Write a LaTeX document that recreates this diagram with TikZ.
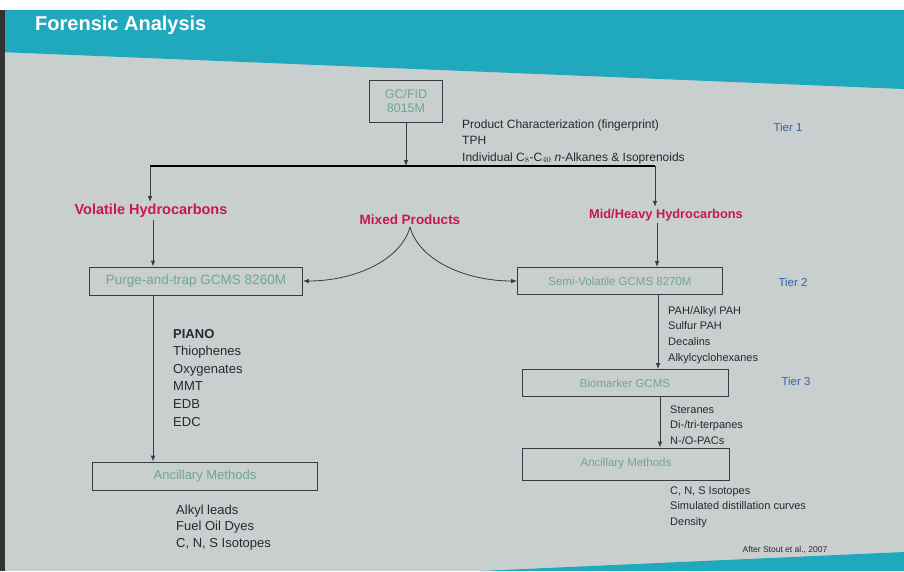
\documentclass[tikz,border=0pt]{standalone}
\usepackage{fontspec}
\setmainfont{Liberation Sans}
\usetikzlibrary{arrows.meta}
\definecolor{band}{RGB}{32,168,188}
\definecolor{slide}{RGB}{201,206,207}
\definecolor{crimson}{RGB}{198,26,74}
\definecolor{tierblue}{RGB}{52,98,168}
\definecolor{boxgreen}{RGB}{110,168,142}
\definecolor{ink}{RGB}{40,40,46}
\definecolor{wire}{RGB}{58,58,64}

\begin{document}
\begin{tikzpicture}[x=1pt,y=-1pt,>={Latex[length=6pt,width=4.5pt]}]
    \tikzstyle{box}=[rectangle,draw=wire,line width=0.8pt,text=boxgreen,font=\fontsize{11.5}{13}\selectfont,inner sep=0pt]
    \tikzstyle{item}=[anchor=base west,text=ink,font=\fontsize{12}{14}\selectfont,inner sep=0pt]
    \tikzstyle{itemL}=[item,font=\fontsize{13}{15}\selectfont]
    \tikzstyle{itemR}=[item,font=\fontsize{11}{13}\selectfont]
    \tikzstyle{head}=[text=crimson,font=\bfseries\fontsize{13.5}{15}\selectfont,inner sep=2pt]
    \tikzstyle{tier}=[text=tierblue,font=\fontsize{11.5}{13}\selectfont]
    \tikzstyle{wire}=[draw=wire,line width=0.8pt]

    % slide background and header
    \fill[slide] (0,0) rectangle (904,571);
    \fill[white] (0,0) rectangle (904,10);
    \fill[band] (0,10) -- (904,10) -- (904,89) -- (0,52) -- cycle;
    \fill[black!80] (0,10) rectangle (5,571);
    \fill[band] (480,571) -- (904,552) -- (904,571) -- cycle;
    \useasboundingbox (0,0) rectangle (904,571);
    \node[anchor=base west,text=white,font=\bfseries\fontsize{20}{24}\selectfont,inner sep=0pt] (title) at (35,30) {Forensic Analysis};

    % tier 1
    \node[box,minimum width=73,minimum height=42,align=center,font=\fontsize{12.5}{14}\selectfont] (gc) at (406,101) {GC/FID\\8015M};
    \foreach \i/\t in {0/{Product Characterization (fingerprint)},1/TPH,2/{Individual C$_8$-C$_{40}$ \textit{n}-Alkanes \& Isoprenoids}}
            \node[item] (t1-\i) at (462,128+16.5*\i) {\t};
    \node[tier] (tier1) at (788,127) {Tier 1};

    \coordinate (bar-L) at (150,166);
    \coordinate (bar-R) at (655,166);
    \draw[wire,->] (gc) -- (gc |- bar-L);
    \draw[line width=1.6pt] (bar-L) -- (bar-R);

    \node[head,font=\bfseries\fontsize{14.5}{16}\selectfont] (vol) at (151,211) {Volatile Hydrocarbons};
    \node[head] (mix) at (410,220) {Mixed Products};
    \node[head,font=\bfseries\fontsize{12.8}{15}\selectfont] (mid) at (666,215) {Mid/Heavy Hydrocarbons};
    \draw[wire,->] (bar-L) -- (bar-L |- vol.north);
    \draw[wire,->] (bar-R) -- (bar-R |- mid.north);

    % tier 2
    \node[box,minimum width=213,minimum height=28,font=\fontsize{13.5}{15}\selectfont] (purge) at (196,281) {Purge-and-trap GCMS 8260M};
    \node[box,minimum width=205,minimum height=27] (semi) at (620,281) {Semi-Volatile GCMS 8270M};
    \node[tier] (tier2) at (793,282) {Tier 2};
    \draw[wire,->] (vol.south -| 153,0) -- (purge.north -| 153,0);
    \draw[wire,->] (mid.south -| 657,0) -- (semi.north -| 657,0);
    \draw[wire,->] (mix.south) .. controls (400,262) and (352,281) .. (purge.east);
    \draw[wire,->] (mix.south) .. controls (420,262) and (468,281) .. (semi.west);

    % volatile branch
    \node[itemL,font=\bfseries\fontsize{13}{15}\selectfont] (pl-0) at (173,338) {PIANO};
    \foreach \i/\t in {1/Thiophenes,2/Oxygenates,3/MMT,4/EDB,5/EDC}
            \node[itemL] (pl-\i) at (173,338+17.6*\i) {\t};
    \node[box,minimum width=225,minimum height=28,font=\fontsize{13}{15}\selectfont] (anc-L) at (205,476) {Ancillary Methods};
    \draw[wire,->] (purge.south -| 153,0) -- (anc-L.north -| 153,0);
    \foreach \i/\t in {0/Alkyl leads,1/Fuel Oil Dyes,2/{C, N, S Isotopes}}
            \node[itemL] (al-\i) at (176,514+16.5*\i) {\t};

    % mid/heavy branch
    \foreach \i/\t in {0/{PAH/Alkyl PAH},1/Sulfur PAH,2/Decalins,3/Alkylcyclohexanes}
            \node[itemR] (pr-\i) at (668,314+15.7*\i) {\t};
    \node[box,minimum width=206,minimum height=27] (bio) at (625,383) {Biomarker GCMS};
    \node[tier] (tier3) at (796,381) {Tier 3};
    \draw[wire,->] (semi.south -| 658,0) -- (bio.north -| 658,0);
    \foreach \i/\t in {0/Steranes,1/{Di-/tri-terpanes},2/{N-/O-PACs}}
            \node[itemR] (bm-\i) at (670,413+15.5*\i) {\t};
    \node[box,minimum width=207,minimum height=32] (anc-R) at (626,464) {Ancillary Methods};
    \draw[wire,->] (bio.south -| 660,0) -- (anc-R.north -| 660,0);
    \foreach \i/\t in {0/{C, N, S Isotopes},1/Simulated distillation curves,2/Density}
            \node[itemR] (ar-\i) at (670,494+15.5*\i) {\t};

    \node[text=ink,font=\fontsize{8.5}{10}\selectfont] (cite) at (785,550) {After Stout et al., 2007};
\end{tikzpicture}
\end{document}
